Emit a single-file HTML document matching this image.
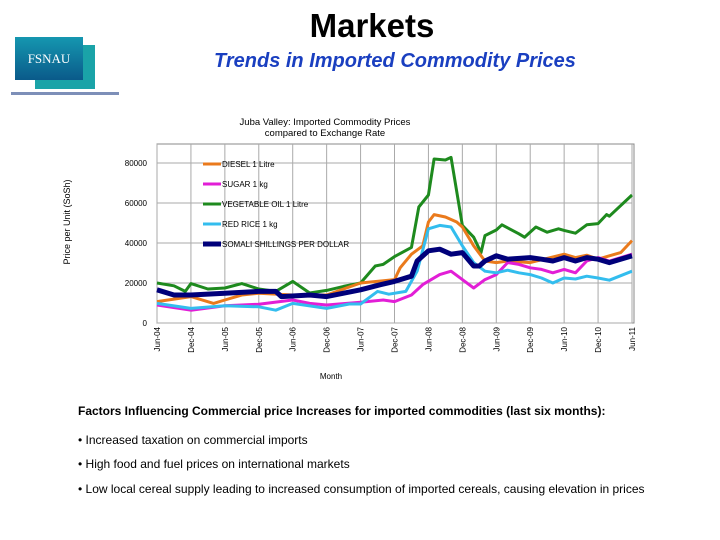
<!DOCTYPE html>
<html><head><meta charset="utf-8"><style>
body{margin:0;width:720px;height:540px;background:#fff;font-family:"Liberation Sans",sans-serif;position:relative;overflow:hidden}
.a{position:absolute}
</style></head><body>
<div class="a" style="left:0;width:744px;top:7px;text-align:center;font-size:33px;font-weight:bold">Markets</div>
<div class="a" style="left:15px;top:37px;width:80px;height:56px">
 <div class="a" style="left:20px;top:8px;width:60px;height:44px;background:#1aa3a8"></div>
 <div class="a" style="left:0;top:0;width:68px;height:43px;background:linear-gradient(#1597b0,#0a5a8a);color:#fff;font-family:'Liberation Serif',serif;font-size:13px;line-height:43px;text-align:center">FSNAU</div>
</div>
<div class="a" style="left:11px;top:92px;width:108px;height:3px;background:#7d8fb8"></div>
<div class="a" style="left:214px;top:50px;font-size:20px;font-weight:bold;font-style:italic;color:#1a3fc0">Trends in Imported Commodity Prices</div>
<svg class="a" style="left:0;top:0" width="720" height="540" id="ch"></svg>
<div class="a" style="left:78px;top:404px;font-size:12px;font-weight:bold">Factors Influencing Commercial price Increases for imported commodities (last six months):</div>
<div class="a" style="left:78px;top:433px;font-size:12px">• Increased taxation on commercial imports</div>
<div class="a" style="left:78px;top:457px;font-size:12px">• High food and fuel prices on international markets</div>
<div class="a" style="left:78px;top:482px;font-size:12px">• Low local cereal supply leading to increased consumption of imported cereals, causing elevation in prices</div>
<script>
const tickLabels=["Jun-04","Dec-04","Jun-05","Dec-05","Jun-06","Dec-06","Jun-07","Dec-07","Jun-08","Dec-08","Jun-09","Dec-09","Jun-10","Dec-10","Jun-11"];
const yTicks=[0,20000,40000,60000,80000];
const seriesNames=["DIESEL 1 Litre","SUGAR 1 kg","VEGETABLE OIL 1 Litre","RED RICE 1 kg","SOMALI SHILLINGS PER DOLLAR"];
const oilMonths=[0,3,5,6,9,12,15,18,21,24,27,30,33,36,38.6,40,42,45,46.3,48,49,51,52,54,56,57.3,58,60,61,64,65,67,69,71,72,74,76,78,79.5,80,84];
const oilValues=[20000,18600,15800,19700,17000,17500,19700,17000,15800,20800,15000,16300,18300,20000,28500,29300,33200,37800,58000,64000,82000,81500,82800,48800,42900,35200,43700,46500,49100,44600,42900,48000,45400,47100,46300,44900,49100,49700,54200,53400,64000];
const dieselMonths=[0,6,10,12,15,18,24,30,36,42,43,45,47,48,49,51,53,54,56,58,60,62,66,72,74,76,78,80,82,84];
const dieselValues=[10700,13200,9800,11500,14000,14900,14000,14000,20000,21700,27600,34400,38600,50500,54200,53000,50500,48000,38600,31000,30200,31000,30200,34400,32700,33900,31900,33600,35200,41200];
const sugarMonths=[0,6,12,18,24,27,30,36,40,42,45,47,50,52,54,56,58,60,62,64,66,68,70,72,74,76,78,80,84];
const sugarValues=[9000,6400,8600,9400,11500,9800,9000,10400,11500,10700,14000,19200,24200,25900,21700,17500,21700,24200,30200,29300,27600,26800,25100,26800,25100,31000,32700,31000,34400];
const riceMonths=[0,6,12,18,21,24,30,34,36,39,41,44,46,48,50,52,54,56,58,60,62,64,66,68,70,72,74,76,78,80,84];
const riceValues=[9800,7300,8600,8100,6400,9800,7300,9500,9500,15800,14400,15800,25900,47100,48800,48000,38600,30200,25900,25100,26400,25100,24200,22500,20000,22500,22000,23400,22500,21400,25900];
const sosMonths=[0,3,6,12,18,21,22,27,30,33,36,39,42,45,46,48,50,52,54,56,57,58,60,62,66,68,70,72,74,76,78,80,84];
const sosValues=[16600,14000,14000,14900,15800,15800,13200,14000,13200,14900,16600,18800,20800,23400,31000,36100,36900,34400,35200,28500,28500,31000,33600,31900,32700,31900,31000,32700,31000,32700,31900,30200,33600];
const colors=["#ea7a1c","#e21ed6","#1e8a1e","#33bdee","#00007a"];
const X0=157,X1=632,Y0=323;
const x=m=>X0+m*(X1-X0)/84, y=v=>Y0-v*40/20000;
const svg=document.getElementById('ch');const NS="http://www.w3.org/2000/svg";
function mk(t,a,p){const e=document.createElementNS(NS,t);for(const k in a)e.setAttribute(k,a[k]);(p||svg).appendChild(e);return e;}
function tx(s,a){const e=mk('text',a);e.textContent=s;return e;}
const bg=mk('rect',{x:X0,y:144,width:X1-X0+2,height:Y0-144,fill:'#fff',stroke:'#888'});


tickLabels.forEach((t,i)=>{const xx=x(i*6);
 mk('line',{x1:xx,x2:xx,y1:144,y2:Y0,stroke:'#aaa','stroke-width':1});
 const l=tx(t,{transform:`translate(${xx+3},${Y0+4}) rotate(-90)`,'text-anchor':'end','font-size':8,fill:'#000'});
 
 });
yTicks.forEach(v=>{mk('line',{x1:X0,x2:X1,y1:y(v),y2:y(v),stroke:'#aaa'});
 const l=tx(String(v),{x:147,y:y(v)+3,'text-anchor':'end','font-size':8});
 
 });
const data=[[dieselMonths,dieselValues],[sugarMonths,sugarValues],[oilMonths,oilValues],[riceMonths,riceValues],[sosMonths,sosValues]];
const order=[2,0,1,3,4];
order.forEach(i=>{const [ms,vs]=data[i];
 const p=mk('polyline',{points:ms.map((m,j)=>x(m)+','+y(vs[j])).join(' '),fill:'none',stroke:colors[i],'stroke-width':i==4?5:3,'stroke-linejoin':'round'});
 
 });
seriesNames.forEach((n,i)=>{const yy=164+i*20;
 mk('line',{x1:203,x2:221,y1:yy,y2:yy,stroke:colors[i],'stroke-width':i==4?5:3});
 const l=tx(n,{x:222,y:yy+3,'font-size':8});
 
 });
const t1=tx('Juba Valley: Imported Commodity Prices',{x:325,y:125,'text-anchor':'middle','font-size':9.5});


tx('compared to Exchange Rate',{x:325,y:136,'text-anchor':'middle','font-size':9.5});
const yt=tx('Price per Unit (SoSh)',{transform:'translate(70,222) rotate(-90)','text-anchor':'middle','font-size':9});


const xt=tx('Month',{x:331,y:379,'text-anchor':'middle','font-size':8});


</script>
</body></html>
